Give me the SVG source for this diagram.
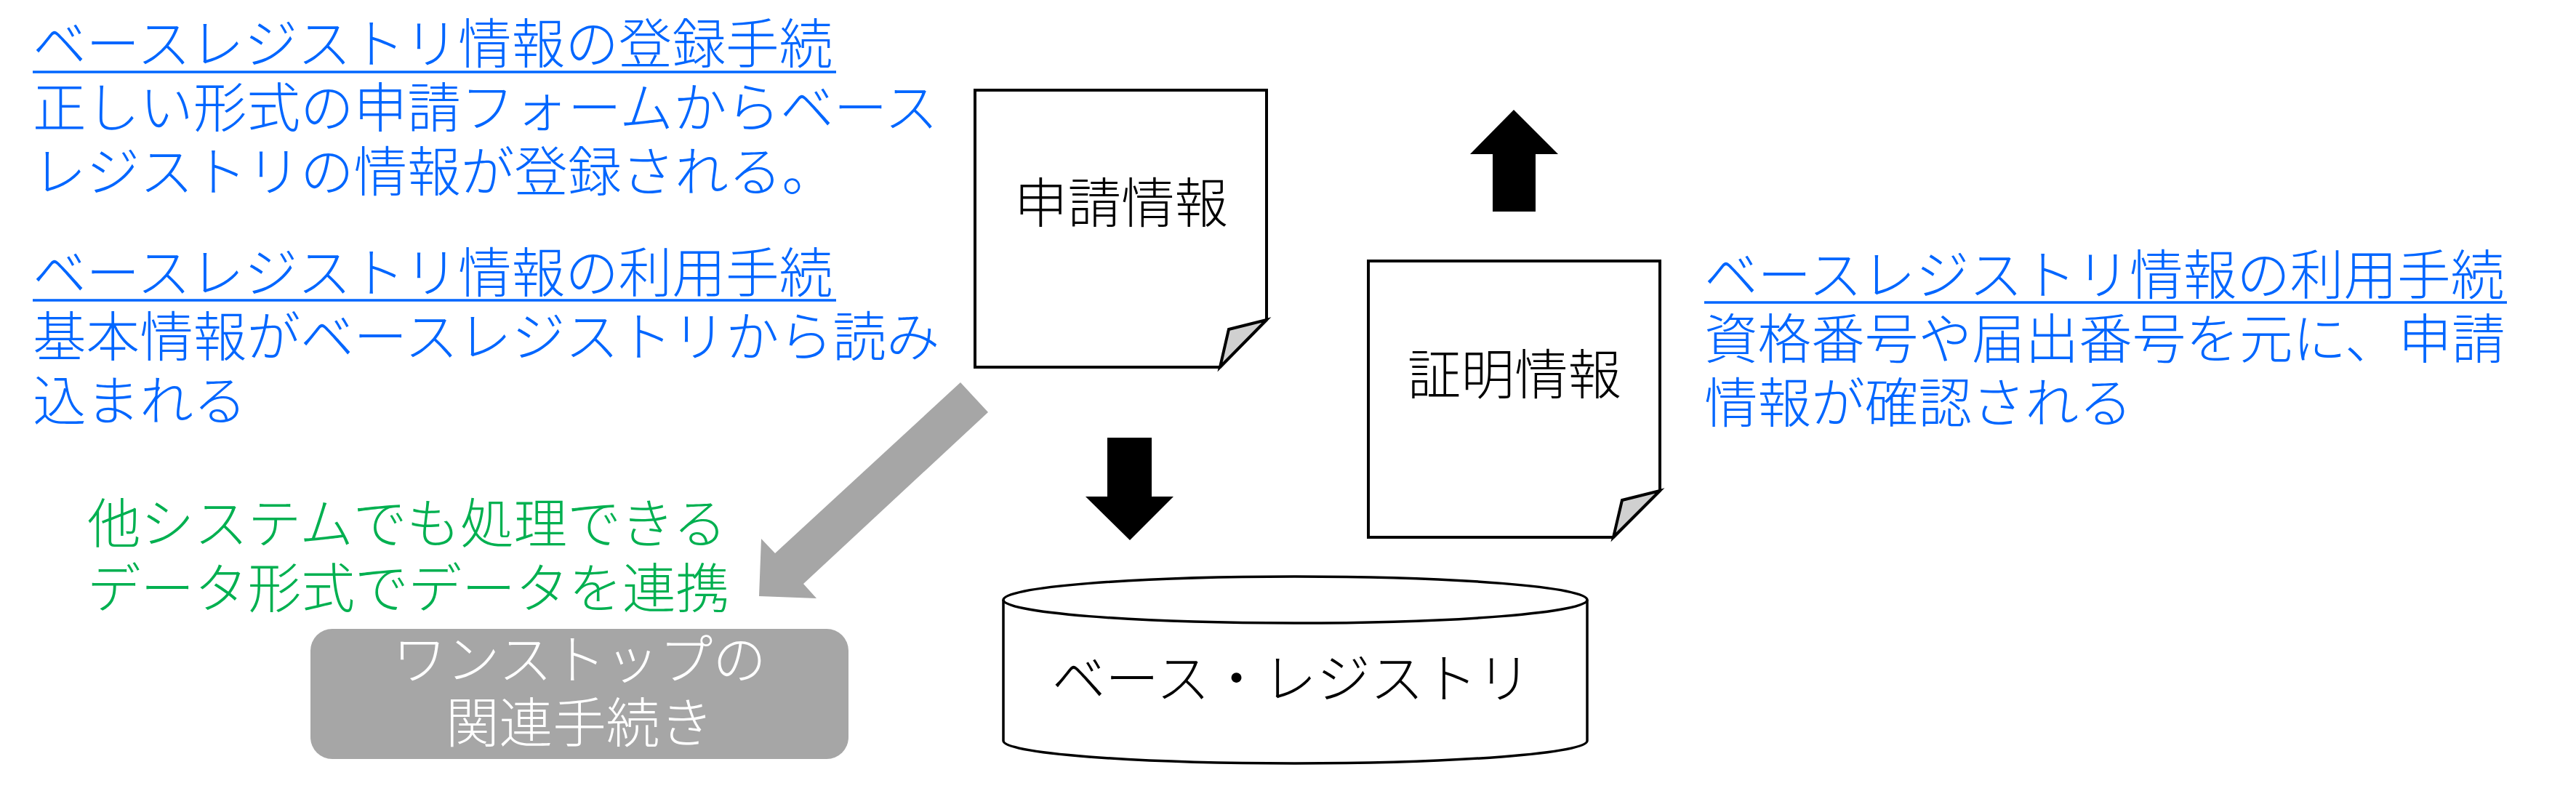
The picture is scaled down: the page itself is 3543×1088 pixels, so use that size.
<svg xmlns="http://www.w3.org/2000/svg" width="3543" height="1088" viewBox="0 0 3543 1088">
<style>
.t{font-family:"Noto Sans CJK JP","Noto Sans CJK SC",sans-serif;font-size:73.6px;font-weight:300}
.blue{fill:#0066FF}
.green{fill:#00B050}
.dark{fill:#000}
.white{fill:#fff}
.ul{stroke:#0066FF;stroke-width:3.5}
.doc{fill:#fff;stroke:#000;stroke-width:4;stroke-linejoin:miter}
.flap{fill:#d0d0d0;stroke:#000;stroke-width:4;stroke-linejoin:miter}
.db{fill:#fff;stroke:#000;stroke-width:3.5}
.blk{fill:#000}
.gry{fill:#A6A6A6}
</style>
<rect width="3543" height="1088" fill="#fff"/>

<g id="note-register">
<text class="t blue" x="45" y="87">ベースレジストリ情報の登録手続</text>
<text class="t blue" x="45" y="175">正しい形式の申請フォームからベース</text>
<text class="t blue" x="45" y="263">レジストリの情報が登録される。</text>
<line class="ul" x1="45" y1="99" x2="1150" y2="99"/>
</g>

<g id="note-use-left">
<text class="t blue" x="45" y="402">ベースレジストリ情報の利用手続</text>
<text class="t blue" x="45" y="490">基本情報がベースレジストリから読み</text>
<text class="t blue" x="45" y="578">込まれる</text>
<line class="ul" x1="45" y1="413" x2="1150" y2="413"/>
</g>

<g id="note-use-right">
<text class="t blue" x="2344" y="405">ベースレジストリ情報の利用手続</text>
<text class="t blue" x="2344" y="493">資格番号や届出番号を元に、申請</text>
<text class="t blue" x="2344" y="581">情報が確認される</text>
<line class="ul" x1="2344" y1="416" x2="3448" y2="416"/>
</g>

<g id="doc-application">
<path class="doc" d="M1341,124 H1742 V440 L1678,505 H1341 Z"/>
<path class="flap" d="M1742,440 L1690,453 L1678,505 Z"/>
<text class="t dark" x="1542" y="306" text-anchor="middle">申請情報</text>
</g>

<g id="doc-certificate">
<path class="doc" d="M1882,359 H2283 V675 L2219,739 H1882 Z"/>
<path class="flap" d="M2283,675 L2231,688 L2219,739 Z"/>
<text class="t dark" x="2083" y="542" text-anchor="middle">証明情報</text>
</g>

<g id="db-base-registry">
<path class="db" d="M1380,825 V1019 A401.5,31 0 0 0 2183,1019 V825"/>
<ellipse class="db" cx="1781.5" cy="825" rx="401.5" ry="32"/>
<text class="t dark" x="1776" y="960" text-anchor="middle">ベース・レジストリ</text>
</g>

<g id="note-green">
<text class="t green" x="120" y="747">他システムでも処理できる</text>
<text class="t green" x="120" y="836">データ形式でデータを連携</text>
</g>

<g id="onestop">
<rect class="gry" x="427" y="865" width="740" height="179" rx="30" ry="30"/>
<text class="t white" x="797" y="934" text-anchor="middle">ワンストップの</text>
<text class="t white" x="797" y="1021" text-anchor="middle">関連手続き</text>
</g>

<g id="connectors">
<polygon class="blk" points="2082,151 2143,212 2112,212 2112,291 2053,291 2053,212 2022,212"/>
<polygon class="blk" points="1554,743 1614,683 1584,683 1584,602 1523,602 1523,683 1493,683"/>
<polygon class="gry" points="1321,526 1359,567 1105,803 1123,823 1044,820 1047,741 1066,761"/>
</g>
</svg>
